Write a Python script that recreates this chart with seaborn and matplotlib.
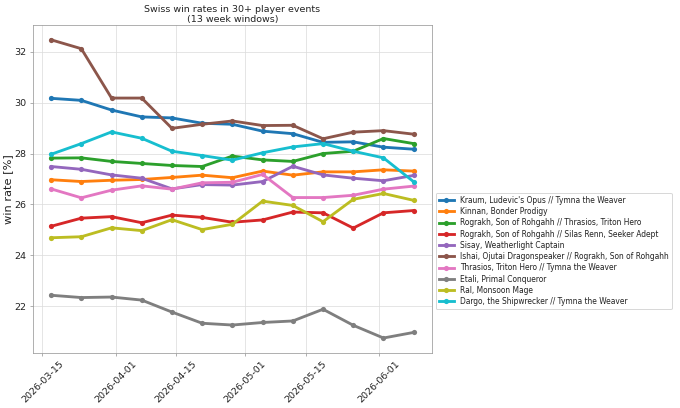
import matplotlib
matplotlib.use("Agg")
import matplotlib.pyplot as plt
import numpy as np
import pandas as pd
import seaborn as sns

# weekly window end dates (13 week windows)
dates = pd.date_range("2026-03-17", periods=13, freq="7D")

kraum = [30.17, 30.09, 29.71, 29.44, 29.40, 29.19, 29.15, 28.88, 28.78, 28.44, 28.46, 28.25, 28.17]
kinnan = [26.97, 26.90, 26.95, 26.98, 27.06, 27.15, 27.05, 27.31, 27.15, 27.28, 27.28, 27.36, 27.31]
rograkh_thrasios = [27.82, 27.83, 27.69, 27.61, 27.53, 27.49, 27.90, 27.75, 27.69, 28.00, 28.09, 28.59, 28.39]
rograkh_silas = [25.14, 25.46, 25.52, 25.28, 25.58, 25.49, 25.30, 25.39, 25.70, 25.67, 25.07, 25.67, 25.76]
sisay = [27.49, 27.38, 27.16, 27.03, 26.61, 26.78, 26.76, 26.90, 27.50, 27.16, 27.03, 26.93, 27.14]
ishai_rograkh = [32.47, 32.12, 30.18, 30.18, 28.99, 29.15, 29.28, 29.10, 29.11, 28.58, 28.84, 28.90, 28.76]
thrasios_tymna = [26.61, 26.26, 26.56, 26.73, 26.60, 26.85, 26.87, 27.18, 26.27, 26.27, 26.36, 26.60, 26.72]
etali = [22.43, 22.34, 22.36, 22.24, 21.77, 21.33, 21.26, 21.36, 21.42, 21.88, 21.25, 20.75, 20.97]
ral = [24.69, 24.73, 25.08, 24.97, 25.40, 25.01, 25.22, 26.13, 25.96, 25.32, 26.20, 26.43, 26.16]
dargo_tymna = [27.97, 28.39, 28.85, 28.60, 28.09, 27.92, 27.74, 28.03, 28.26, 28.39, 28.09, 27.83, 26.89]

commanders = [
    "Kraum, Ludevic's Opus // Tymna the Weaver",
    "Kinnan, Bonder Prodigy",
    "Rograkh, Son of Rohgahh // Thrasios, Triton Hero",
    "Rograkh, Son of Rohgahh // Silas Renn, Seeker Adept",
    "Sisay, Weatherlight Captain",
    "Ishai, Ojutai Dragonspeaker // Rograkh, Son of Rohgahh",
    "Thrasios, Triton Hero // Tymna the Weaver",
    "Etali, Primal Conqueror",
    "Ral, Monsoon Mage",
    "Dargo, the Shipwrecker // Tymna the Weaver",
]
series = [kraum, kinnan, rograkh_thrasios, rograkh_silas, sisay,
          ishai_rograkh, thrasios_tymna, etali, ral, dargo_tymna]

df = pd.DataFrame(dict(zip(commanders, series)), index=dates)
colors = sns.color_palette("tab10", len(commanders))

fig = plt.figure(figsize=(10, 6), dpi=68)
ax = fig.add_axes([0.0485, 0.135, 0.5865, 0.804])
for _i, _col in enumerate(commanders):
    sns.lineplot(x=df.index, y=df[_col], ax=ax, label=_col, color=colors[_i],
                 marker="o", markersize=5.5, markeredgewidth=0, linewidth=3)

ax.set_title("Swiss win rates in 30+ player events\n(13 week windows)", fontsize=10,
             color="#222222", pad=3)
ax.set_ylabel("win rate [%]", fontsize=12, color="#222222", labelpad=1)
ax.set_xlabel("")
ax.grid(True, color="#dddddd", linewidth=0.8)
for _s in ax.spines.values():
    _s.set_color("#999999")
ax.tick_params(colors="#999999", labelcolor="#222222")
plt.setp(ax.get_xticklabels(), rotation=45)
_leg = ax.legend(loc="upper left", bbox_to_anchor=(1.0, 0.5), fontsize=8, labelspacing=0.3)
for _t in _leg.get_texts():
    _t.set_color("#222222")

fig.savefig("out.png", dpi=68)
